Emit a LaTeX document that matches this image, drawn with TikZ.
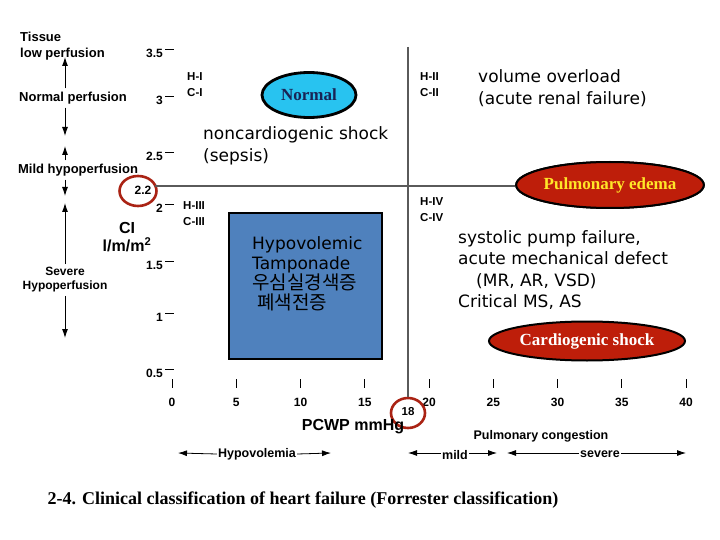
\documentclass[tikz,border=0pt]{standalone}
\usepackage{fontspec}
\setmainfont{Liberation Serif}
\setsansfont{Liberation Sans}
\newfontfamily\gulim{DejaVu Sans}
\newfontfamily\hangul{Noto Sans CJK KR}
\usepackage{tikz}
\usetikzlibrary{arrows.meta,positioning,shapes.geometric}
\definecolor{normalcyan}{RGB}{40,195,240}
\definecolor{shockred}{RGB}{190,30,10}
\definecolor{boxblue}{RGB}{79,129,189}
\definecolor{navytext}{RGB}{25,35,85}
\definecolor{edemayellow}{RGB}{255,230,40}
\definecolor{axisgray}{RGB}{90,90,90}
\definecolor{ringred}{RGB}{170,35,20}
\tikzset{
  perf/.style={font=\sffamily\bfseries\fontsize{13}{15.5}\selectfont, align=center},
  cls/.style={font=\sffamily\bfseries\fontsize{11.5}{16}\selectfont, align=left, anchor=north west, inner sep=0pt},
  axnum/.style={font=\sffamily\bfseries\fontsize{12}{14}\selectfont, inner sep=0pt},
  dx/.style={font=\gulim\fontsize{17}{22}\selectfont, align=left, anchor=north west, inner sep=0pt},
  oval/.style={ellipse, draw=black, line width=2pt, inner sep=0pt, font=\bfseries\fontsize{17}{19}\selectfont},
  ring/.style={ellipse, draw=ringred, line width=2.6pt},
  spanlab/.style={font=\sffamily\bfseries\fontsize{12.5}{14}\selectfont, inner sep=1pt},
  >={Latex[length=9pt,width=6pt]}
}

\begin{document}
\begin{tikzpicture}[x=1pt,y=-1pt]
  \useasboundingbox (0,0) rectangle (720,540);

  \node[perf, align=left, anchor=north west, inner sep=0pt] (tissue) at (20,32) {Tissue\\low perfusion};
  \node[perf] (normperf) at (73,98) {Normal perfusion};
  \node[perf] (mildperf) at (78,170) {Mild hypoperfusion};
  \node[perf, font=\sffamily\bfseries\fontsize{12}{14}\selectfont] (sevperf) at (65,280) {Severe\\Hypoperfusion};
  \coordinate (up1) at (65,57);
  \coordinate (dn1) at (65,136);
  \coordinate (up2) at (65,146);
  \coordinate (dn2) at (65,196);
  \coordinate (up3) at (65,203);
  \coordinate (dn3) at (65,338);
  \draw[arrows=->, line width=0.9pt] (normperf.north -| up1) -- (up1);
  \draw[arrows=->, line width=0.9pt] (normperf.south -| dn1) -- (dn1);
  \draw[arrows=->, line width=0.9pt] (mildperf.north -| up2) -- (up2);
  \draw[arrows=->, line width=0.9pt] (mildperf.south -| dn2) -- (dn2);
  \draw[arrows=->, line width=0.9pt] (sevperf.north -| up3) -- (up3);
  \draw[arrows=->, line width=0.9pt] (sevperf.south -| dn3) -- (dn3);

  \node[font=\sffamily\bfseries\fontsize{16}{18}\selectfont, align=center] (ci) at (127,237) {CI\\l/m/m\textsuperscript{2}};

  \foreach \v/\pos [count=\i] in {3.5/53,3/100,2.5/156,2/208,1.5/265,1/317,0.5/373} {
    \node[axnum, anchor=east] (yt\i) at (163,\pos) {\v};
    \draw[thick] ([xshift=2pt,yshift=4pt]yt\i.east) -- ++(9,0);
  }
  \foreach \v [count=\i] in {0,5,...,40} {
    \node[axnum] (xt\i) at ({172+12.85*\v},402) {\v};
    \draw[thick] (xt\i.north) ++(0,-10) -- ++(0,-9);
  }

  \node[axnum] (lab22) at (143,190) {2.2};
  \node[ring, minimum width=37, minimum height=30] (ring22) at (138,191) {};
  \node[axnum, font=\sffamily\bfseries\fontsize{11.5}{13}\selectfont] (lab18) at (408,412) {18};
  \node[ring, minimum width=34, minimum height=30] (ring18) at (408,413) {};

  \node[oval, fill=shockred, text=edemayellow, minimum width=172, minimum height=46] (edema) at (610,185) {Pulmonary edema};
  \coordinate (hstart) at (155,186);
  \coordinate (vtop) at (408,47);
  \draw[axisgray, line width=1.6pt] (hstart) -- (hstart -| edema.west);
  \draw[axisgray, line width=1.4pt] (vtop) -- (ring18.north);
  \node[oval, fill=shockred, text=edemayellow, minimum width=172, minimum height=46] at (edema) {Pulmonary edema};

  \node[cls] (q1) at (187,72) {H-I\\C-I};
  \node[cls] (q2) at (420,72) {H-II\\C-II};
  \node[cls] (q3) at (183,201) {H-III\\C-III};
  \node[cls] (q4) at (420,197) {H-IV\\C-IV};

  \node[oval, line width=2.8pt, fill=normalcyan, text=navytext, minimum width=94, minimum height=45] (normal) at (309,95) {Normal};
  \node[dx] (sepsis) at (203,126) {noncardiogenic shock\\(sepsis)};
  \node[dx] (overload) at (478,69) {volume overload\\(acute renal failure)};

  \node[draw=black, line width=1.2pt, fill=boxblue, minimum width=153, minimum height=146, inner sep=0pt] (hvbox) at (305.5,286) {};
  \node[dx, font=\gulim\fontsize{17}{20}\selectfont] (hvtxt) at (252,236) {Hypovolemic\\Tamponade\\{\hangul\fontsize{19}{20}\selectfont 우심실경색증}\\\hspace{5pt}{\hangul\fontsize{19}{20}\selectfont 폐색전증}};

  \node[dx, font=\gulim\fontsize{17}{21.5}\selectfont] (pump) at (458,230) {systolic pump failure,\\acute mechanical defect\\\hspace{18pt}(MR, AR, VSD)\\Critical MS, AS};
  \node[oval, fill=shockred, text=white, minimum width=196, minimum height=39] (cshock) at (587,341) {Cardiogenic shock};

  \node[font=\sffamily\bfseries\fontsize{16}{18}\selectfont] (pcwp) at (353,427) {PCWP mmHg};
  \node[spanlab] (pcong) at (541,436) {Pulmonary congestion};

  \node[spanlab] (hypovol) at (257,454) {Hypovolemia};
  \node[spanlab] (mild) at (455,455) {mild};
  \node[spanlab] (severe) at (600,454) {severe};
  \coordinate (hvl) at (178,453);
  \coordinate (hvr) at (331,453);
  \coordinate (mdl) at (408,453);
  \coordinate (mdr) at (497,453);
  \coordinate (svl) at (507,453);
  \coordinate (svr) at (686,453);
  \draw[arrows=->, line width=0.8pt] (hypovol.west) -- (hvl);
  \draw[arrows=->, line width=0.8pt] (hypovol.east) -- (hvr);
  \draw[arrows=->, line width=0.8pt] (mild.west |- mdl) -- (mdl);
  \draw[arrows=->, line width=0.8pt] (mild.east |- mdr) -- (mdr);
  \draw[arrows=->, line width=0.8pt] (severe.west |- svl) -- (svl);
  \draw[arrows=->, line width=0.8pt] (severe.east |- svr) -- (svr);

  \node[font=\bfseries\fontsize{18}{20}\selectfont] (caption) at (303,500) {2-4. Clinical classification of heart failure (Forrester classification)};
\end{tikzpicture}
\end{document}
